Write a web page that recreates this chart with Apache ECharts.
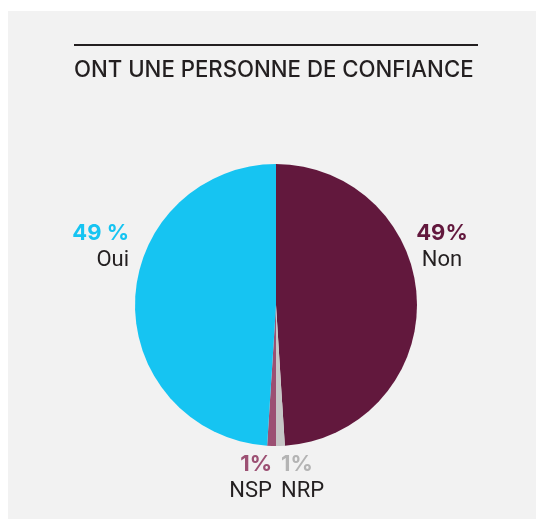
<!DOCTYPE html>
<html>
<head>
<meta charset="utf-8">
<script src="https://cdn.jsdelivr.net/npm/echarts@6/dist/echarts.min.js"></script>
<style>
  html, body { margin: 0; padding: 0; background: #fff; }
  #chart { width: 536px; height: 519px; }
</style>
</head>
<body>
<div id="chart"></div>
<script>
// valeurs (ordre horaire depuis midi)
const categories = ['Non', 'NRP', 'NSP', 'Oui'];
const values = [49, 1, 1, 49];
const pctLabels = ['49%', '1%', '1%', '49 %'];
const colors = ['#62183d', '#c6c6c6', '#9c5073', '#16c4f2'];
const pctColors = ['#62183d', '#b4b4b4', '#9c5073', '#16c4f2'];

// placement des étiquettes
const labelPos = [
    { x: 442, y: 220, align: 'center' },
    { x: 281, y: 451, align: 'left' },
    { x: 272, y: 451, align: 'right' },
    { x: 129, y: 220, align: 'right' }
];

const chart = echarts.init(document.getElementById('chart'));

chart.setOption({
    backgroundColor: '#ffffff',
    animation: false,
    graphic: [
        { type: 'rect', shape: { x: 8, y: 11, width: 528, height: 508 }, style: { fill: '#f2f2f2' }, z: -10 },
        { type: 'rect', shape: { x: 74, y: 44, width: 404, height: 2 }, style: { fill: '#231f20' } }
    ],
    title: {
        text: 'ONT UNE PERSONNE DE CONFIANCE',
        left: 74,
        top: 59,
        padding: 0,
        textStyle: {
            fontFamily: 'Inter',
            fontWeight: 500,
            fontSize: 22.2,
            color: '#231f20'
        }
    },
    series: [
        {
            type: 'pie',
            center: [276, 305],
            radius: 141,
            startAngle: 90,
            clockwise: true,
            itemStyle: { borderWidth: 0 },
            labelLine: { show: false },
            label: {
                show: true,
                position: 'outside',
                formatter: (p) => '{p' + p.dataIndex + '|' + pctLabels[p.dataIndex] + '}\n{n|' + p.name + '}',
                rich: Object.assign({
                    n: {
                        fontFamily: 'Roboto',
                        fontSize: 22,
                        color: '#231f20',
                        lineHeight: 27
                    }
                }, Object.fromEntries(pctColors.map((c, i) => ['p' + i, {
                    fontFamily: 'Inter',
                    fontWeight: 700,
                    fontSize: 22,
                    color: c,
                    lineHeight: 27
                }])))
            },
            labelLayout: (p) => ({
                x: labelPos[p.dataIndex].x,
                y: labelPos[p.dataIndex].y,
                align: labelPos[p.dataIndex].align,
                verticalAlign: 'top'
            }),
            data: categories.map((name, i) => ({
                name: name,
                value: values[i],
                itemStyle: { color: colors[i] },
                label: { align: labelPos[i].align }
            }))
        }
    ]
});
</script>
</body>
</html>
